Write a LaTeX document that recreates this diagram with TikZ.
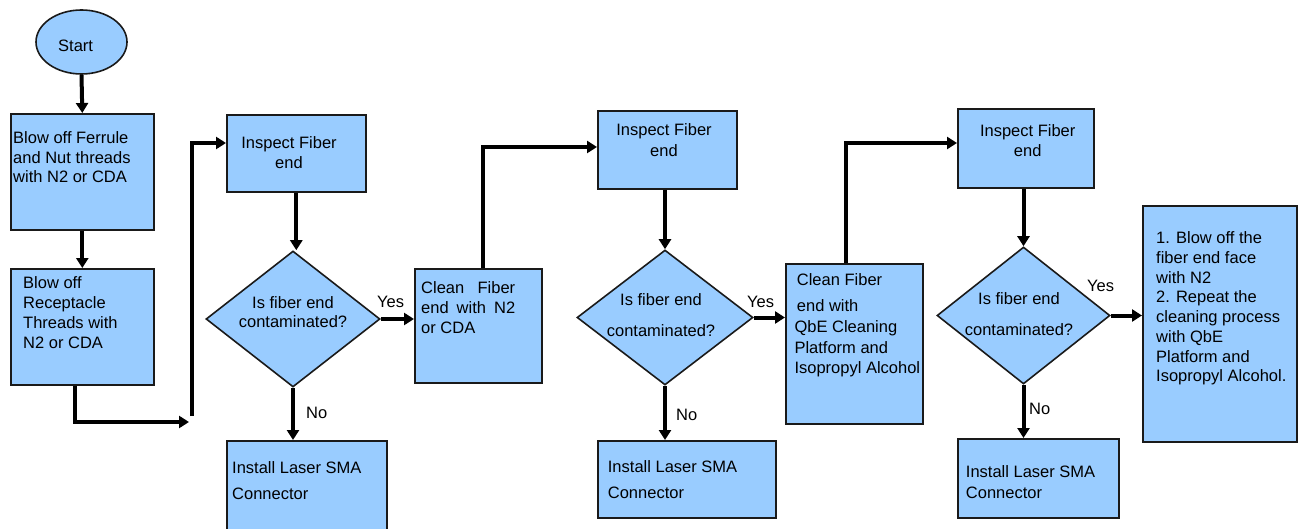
\documentclass[tikz,border=0pt]{standalone}
\usepackage{fontspec}
\setmainfont{Liberation Sans}
\usetikzlibrary{shapes.geometric,arrows.meta}
\definecolor{boxblue}{HTML}{99CCFF}
\definecolor{edgegray}{HTML}{1A1A1A}
\begin{document}
\begin{tikzpicture}[x=1pt,y=-1pt,
  shapebox/.style={rectangle,draw=edgegray,line width=1.6pt,fill=boxblue,inner sep=0pt,anchor=north west},
  decision/.style={diamond,draw=edgegray,line width=1.6pt,fill=boxblue,inner sep=0pt},
  terminal/.style={ellipse,draw=edgegray,line width=1.6pt,fill=boxblue,inner sep=0pt,font=\fontsize{16.5}{20}\selectfont},
  txt/.style={inner sep=0pt,align=left,anchor=north west,font=\fontsize{16.5}{#1}\selectfont},
  txtc/.style={inner sep=0pt,align=center,anchor=north,font=\fontsize{16.5}{#1}\selectfont},
  lbl/.style={inner sep=0pt,anchor=base west,font=\fontsize{16.5}{20}\selectfont},
  arr/.style={line width=4pt,-{Triangle[length=10pt,width=12pt]}}]
\useasboundingbox (0,0) rectangle (1313,529);
\clip (0,0) rectangle (1313,529);

% shapes
\node[terminal,minimum width=91pt,minimum height=64pt] (start) at (81.5,42) {};
\node[shapebox,minimum width=143pt,minimum height=116pt] (b1) at (10,113) {};
\node[shapebox,minimum width=143pt,minimum height=116pt] (b2) at (10,268) {};
\node[shapebox,minimum width=139pt,minimum height=77pt] (i1) at (226,114) {};
\node[decision,minimum width=174pt,minimum height=136pt] (d1) at (293,319) {};
\node[shapebox,minimum width=160pt,minimum height=100pt] (in1) at (226,440) {};
\node[shapebox,minimum width=127pt,minimum height=114pt] (cl1) at (414,268) {};
\node[shapebox,minimum width=139pt,minimum height=78pt] (i2) at (597,110) {};
\node[decision,minimum width=176pt,minimum height=135pt] (d2) at (665,317.5) {};
\node[shapebox,minimum width=178pt,minimum height=77pt] (in2) at (597,440) {};
\node[shapebox,minimum width=137pt,minimum height=160pt] (cl2) at (785,263) {};
\node[shapebox,minimum width=136pt,minimum height=79pt] (i3) at (957,108) {};
\node[decision,minimum width=173pt,minimum height=137pt] (d3) at (1023.5,315.5) {};
\node[shapebox,minimum width=161pt,minimum height=79pt] (in3) at (957,438) {};
\node[shapebox,minimum width=154pt,minimum height=236pt] (fin) at (1142,205) {};

% texts
\begin{scope}[shift={(0,1.8)}]
\node[lbl] (tstart) at (58,49.3) {Start};
\node[txt=19.5] (tb1) at (13,130) {Blow off Ferrule\\and Nut threads\\with N2 or CDA};
\node[txt=20] (tb2) at (23,275) {Blow off\\Receptacle\\Threads with\\N2 or CDA};
\node[txtc=20] (ti1) at (289,134.7) {Inspect Fiber\\end};
\node[txtc=19.3] (td1) at (293,294.7) {Is fiber end\\contaminated?};
\node[lbl] (yes1) at (377,306) {Yes};
\node[lbl] (no1) at (306,416.7) {No};
\node[txt=25.6] (tin1) at (232,459.7) {Install Laser SMA\\Connector};
\node[txt=19.7] (tcl1) at (421,279.7) {\makebox[94pt][s]{Clean Fiber}\\\makebox[94pt][s]{end with N2}\\or CDA};
\node[txtc=21.7] (ti2) at (664,121.3) {Inspect Fiber\\end};
\node[txtc=30.3] (td2) at (661,292) {Is fiber end\\contaminated?};
\node[lbl] (yes2) at (747,306) {Yes};
\node[lbl] (no2) at (676,419) {No};
\node[txt=25.7] (tin2) at (607.7,459) {Install Laser SMA\\Connector};
\node[txt=20] (tcl2) at (794.3,272) {\hspace*{2.4pt}Clean Fiber\\[6pt]\hspace*{2.4pt}end with\\[1pt]QbE Cleaning\\[0.7pt]Platform and\\Isopropyl Alcohol};
\node[txtc=20.7] (ti3) at (1027.7,122.3) {Inspect Fiber\\end};
\node[txtc=30.6] (td3) at (1019,290.7) {Is fiber end\\contaminated?};
\node[lbl] (yes3) at (1087,290) {Yes};
\node[lbl] (no3) at (1029,413) {No};
\node[txt=20.7] (tin3) at (965.7,464) {Install Laser SMA\\Connector};
\node[txt=19.76] (tfin) at (1156,229.7) {1. Blow off the\\fiber end face\\with N2\\2. Repeat the\\cleaning process\\with QbE\\Platform and\\Isopropyl Alcohol.};
\end{scope}

% connectors
\coordinate (j1) at (75,422);
\coordinate (c1) at (189,422);
\coordinate (c2) at (192,416);
\coordinate (k1) at (192,143);
\coordinate (k2) at (483,147);
\coordinate (k3) at (846,143);

\draw[arr] (start.south) -- (b1.north);
\draw[arr] (b1.south) -- (b2.north);
\draw[arr] (b2.south -| j1) -- (j1) -- (c1);
\draw[arr] (c2) -- (k1) -- (k1 -| i1.west);
\draw[arr] (i1.south) -- (i1.south |- d1.north);
\draw[arr] (d1.east) -- (d1.east -| cl1.west);
\draw[arr] (d1.south) -- (d1.south |- in1.north);
\draw[arr] (cl1.north -| k2) -- (k2) -- (k2 -| i2.west);
\draw[arr] (i2.south -| d2.north) -- (d2.north);
\draw[arr] (d2.east) -- (d2.east -| cl2.west);
\draw[arr] (d2.south) -- (d2.south |- in2.north);
\draw[arr] (cl2.north -| k3) -- (k3) -- (k3 -| i3.west);
\draw[arr] (i3.south -| d3.north) -- (d3.north);
\draw[arr] (d3.east) -- (d3.east -| fin.west);
\draw[arr] (d3.south) -- (d3.south |- in3.north);
\end{tikzpicture}
\end{document}
